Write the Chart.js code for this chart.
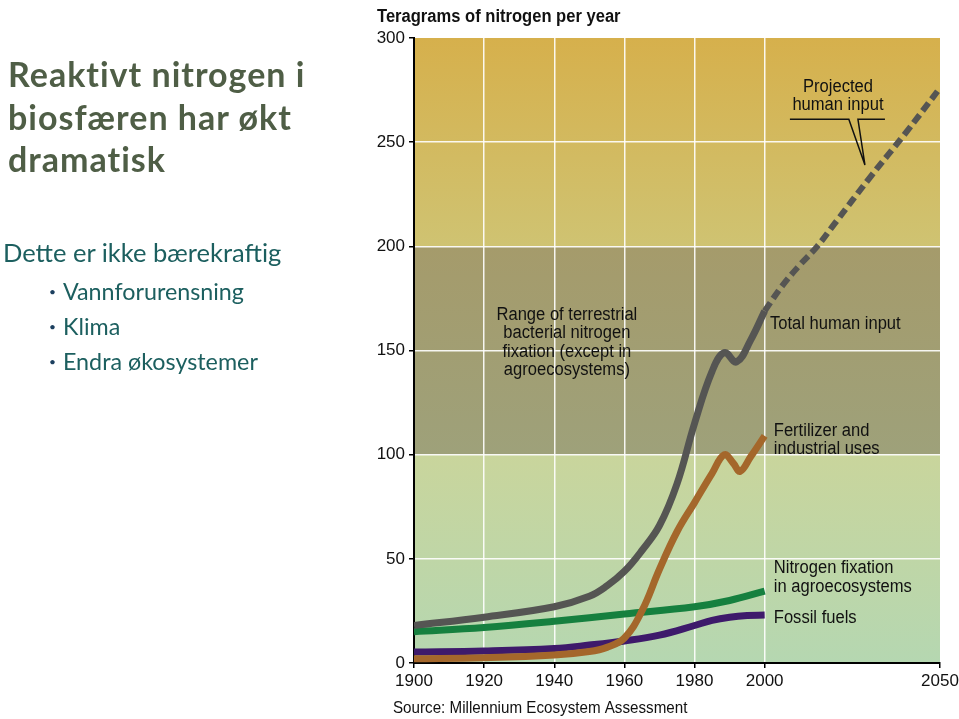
<!DOCTYPE html>
<html>
<head>
<meta charset="utf-8">
<script src="https://cdn.jsdelivr.net/npm/chart.js@4.4.1/dist/chart.umd.min.js"></script>
<style>
  html, body { margin: 0; padding: 0; background: #fff; }
  #wrap { position: relative; width: 959px; height: 719px; overflow: hidden; }
  #chartBox { position: absolute; left: 0; top: 0; width: 959px; height: 719px; }
  .t { position: absolute; white-space: nowrap; font-family: Lato, "Open Sans", sans-serif; }
  .title { left: 8px; font-weight: bold; font-size: 34px; letter-spacing: 1px; color: #4f5e46; line-height: 42.5px; }
  .body { left: 3px; font-size: 25.5px; color: #1c5f5f; line-height: 30px; }
  .bul { left: 49px; font-size: 23.3px; color: #1c5f5f; line-height: 26px; }
  .bul .dot { font-size: 12px; vertical-align: 4px; margin-right: 7px; color: #1c3f5f; }
</style>
</head>
<body>
<div id="wrap">
  <div id="chartBox"><canvas id="c"></canvas></div>
  <div class="t title" style="top:53px;">Reaktivt nitrogen i<br>biosfæren har økt<br>dramatisk</div>
  <div class="t body" style="top:237px;">Dette er ikke bærekraftig</div>
  <div class="t bul" style="top:278px;"><span class="dot">•</span>Vannforurensning</div>
  <div class="t bul" style="top:313px;"><span class="dot">•</span>Klima</div>
  <div class="t bul" style="top:348px;"><span class="dot">•</span>Endra økosystemer</div>
</div>
<script>
// ---------- data ----------
const totalYears  = [1900, 1920, 1940, 1950, 1955, 1960, 1965, 1970, 1975, 1980, 1985, 1988.5, 1992, 1996, 2000];
const totalValues = [18,   22,   27,   32,   37,   44,   54,   66,   86,   115,  140,  149,    144.5, 155, 169];

const projYears  = [2000, 2005, 2010, 2015, 2020, 2030, 2040, 2050];
const projValues = [169,  181,  191,  200,  211,  233,  254,  276];

const fertYears  = [1900, 1920, 1940, 1950, 1955, 1960, 1965, 1970, 1975, 1980, 1985, 1988.5, 1991, 1993, 1996, 2000];
const fertValues = [2,    2.5,  3.8,  5.5,  7.5,  12,   25,   45,   63,   77,   91,   100,    96,   92,   99,   109];

const agroYears  = [1900, 1920, 1940, 1960, 1980, 1990, 2000];
const agroValues = [15,   17,   20,   23.5, 27,   30,   34.5];

const fossilYears  = [1900, 1920, 1940, 1950, 1960, 1970, 1980, 1985, 1990, 1995, 2000];
const fossilValues = [5.3,  5.8,  7,    8.6,  10.6, 13.4, 18,   20.5, 22,   22.8, 23];

const xTicks = [1900, 1920, 1940, 1960, 1980, 2000, 2050];
const yTicks = [0, 50, 100, 150, 200, 250, 300];

const yAxisTitle = "Teragrams of nitrogen per year";
const sourceText = "Source: Millennium Ecosystem Assessment";

function pts(xs, ys) { return xs.map((x, i) => ({ x: x, y: ys[i] })); }

// ---------- helpers ----------
function ntext(ctx, s, x, y, size, bold, align) {
  ctx.save();
  ctx.font = (bold ? "bold " : "") + size + "px 'Liberation Sans', Arial, sans-serif";
  ctx.fillStyle = "#111";
  ctx.textBaseline = "middle";
  ctx.textAlign = "left";
  const sx = 0.92;
  const w = ctx.measureText(s).width * sx;
  let left = x;
  if (align === "center") left = x - w / 2;
  ctx.translate(left, y);
  ctx.scale(sx, 1);
  ctx.fillText(s, 0, 0);
  ctx.restore();
}

const bandsPlugin = {
  id: "bands",
  beforeDraw(chart) {
    const { ctx, chartArea: a, scales } = chart;
    const ys = scales.y;
    const bands = [
      [0, 100, "#b5d7b1", "#c9d59c"],
      [100, 200, "#9ea17a", "#a59b6b"],
      [200, 300, "#cfc372", "#d6b04c"]
    ];
    ctx.save();
    bands.forEach(b => {
      const y0 = ys.getPixelForValue(b[0]);
      const y1 = ys.getPixelForValue(b[1]);
      const g = ctx.createLinearGradient(0, y0, 0, y1);
      g.addColorStop(0, b[2]);
      g.addColorStop(1, b[3]);
      ctx.fillStyle = g;
      ctx.fillRect(a.left, y1, a.right - a.left, y0 - y1);
    });
    ctx.restore();
  }
};

const labelsPlugin = {
  id: "labels",
  afterDraw(chart) {
    const { ctx, chartArea: a, scales } = chart;
    const X = v => scales.x.getPixelForValue(v);
    const Y = v => scales.y.getPixelForValue(v);
    ntext(ctx, yAxisTitle, a.left - 37, a.top - 21, 18, true, "left");
    ntext(ctx, sourceText, a.left - 21, a.bottom + 45, 16.5, false, "left");
    ntext(ctx, "Total human input", X(2001.5), Y(162.7), 18, false, "left");
    ntext(ctx, "Fertilizer and", X(2002.6), Y(111.4), 18, false, "left");
    ntext(ctx, "industrial uses", X(2002.6), Y(102.7), 18, false, "left");
    ntext(ctx, "Nitrogen fixation", X(2002.6), Y(45.6), 18, false, "left");
    ntext(ctx, "in agroecosystems", X(2002.6), Y(36.5), 18, false, "left");
    ntext(ctx, "Fossil fuels", X(2002.6), Y(21.6), 18, false, "left");
    const rc = X(1943.6);
    ntext(ctx, "Range of terrestrial", rc, Y(167), 18, false, "center");
    ntext(ctx, "bacterial nitrogen", rc, Y(158.2), 18, false, "center");
    ntext(ctx, "fixation (except in", rc, Y(149.3), 18, false, "center");
    ntext(ctx, "agroecosystems)", rc, Y(140.6), 18, false, "center");
    const pc = X(2020.9);
    ntext(ctx, "Projected", pc, Y(276.5), 18, false, "center");
    ntext(ctx, "human input", pc, Y(267.9), 18, false, "center");
    ctx.save();
    ctx.strokeStyle = "#111";
    ctx.lineWidth = 1.5;
    ctx.beginPath();
    ctx.moveTo(X(2007.2), Y(261));
    ctx.lineTo(X(2024.0), Y(261));
    ctx.lineTo(X(2028.6), Y(239));
    ctx.lineTo(X(2026.6), Y(261));
    ctx.lineTo(X(2034.3), Y(261));
    ctx.stroke();
    ctx.restore();
  }
};

const lineBase = {
  pointRadius: 0,
  borderWidth: 7,
  fill: false,
  tension: 0.4,
  borderCapStyle: "butt",
  borderJoinStyle: "round"
};

new Chart(document.getElementById("c"), {
  type: "line",
  data: {
    datasets: [
      Object.assign({}, lineBase, { label: "Fertilizer and industrial uses", data: pts(fertYears, fertValues), borderColor: "#a4672b" }),
      Object.assign({}, lineBase, { label: "Total human input", data: pts(totalYears, totalValues), borderColor: "#555553" }),
      Object.assign({}, lineBase, { label: "Projected human input", data: pts(projYears, projValues), borderColor: "#555553", borderWidth: 6, borderDash: [10, 5] }),
      Object.assign({}, lineBase, { label: "Nitrogen fixation in agroecosystems", data: pts(agroYears, agroValues), borderColor: "#16803f" }),
      Object.assign({}, lineBase, { label: "Fossil fuels", data: pts(fossilYears, fossilValues), borderColor: "#3e1a6b" })
    ]
  },
  options: {
    responsive: true,
    maintainAspectRatio: false,
    animation: false,
    layout: { padding: { left: 360, right: 19, top: 38, bottom: 0 } },
    plugins: { legend: { display: false }, tooltip: { enabled: false } },
    scales: {
      x: {
        type: "linear",
        min: 1900,
        max: 2050,
        afterBuildTicks: s => { s.ticks = xTicks.map(v => ({ value: v })); },
        afterFit: s => { s.height = 56; s.paddingRight = 0; s.paddingLeft = 0; },
        grid: {
          color: c => (c.tick && (c.tick.value === 1900 || c.tick.value === 2050)) ? "rgba(0,0,0,0)" : "rgba(255,255,255,0.9)",
          lineWidth: 1.5,
          drawTicks: true,
          tickColor: "#000",
          tickLength: 5
        },
        border: { display: true, color: "#000", width: 2 },
        ticks: {
          color: "#111",
          font: { family: "'Liberation Sans', Arial, sans-serif", size: 17 },
          padding: 3,
          maxRotation: 0,
          autoSkip: false,
          callback: v => String(v)
        }
      },
      y: {
        type: "linear",
        min: 0,
        max: 300,
        afterBuildTicks: s => { s.ticks = yTicks.map(v => ({ value: v })); },
        afterFit: s => { s.width = 54; s.paddingTop = 0; s.paddingBottom = 0; },
        grid: {
          color: c => (c.tick && (c.tick.value === 0 || c.tick.value === 300)) ? "rgba(0,0,0,0)" : "rgba(255,255,255,0.9)",
          lineWidth: 1.5,
          drawTicks: true,
          tickColor: "#000",
          tickLength: 5
        },
        border: { display: true, color: "#000", width: 2 },
        ticks: {
          color: "#111",
          font: { family: "'Liberation Sans', Arial, sans-serif", size: 17 },
          padding: 4,
          callback: v => String(v)
        }
      }
    }
  },
  plugins: [bandsPlugin, labelsPlugin]
});
</script>
</body>
</html>
